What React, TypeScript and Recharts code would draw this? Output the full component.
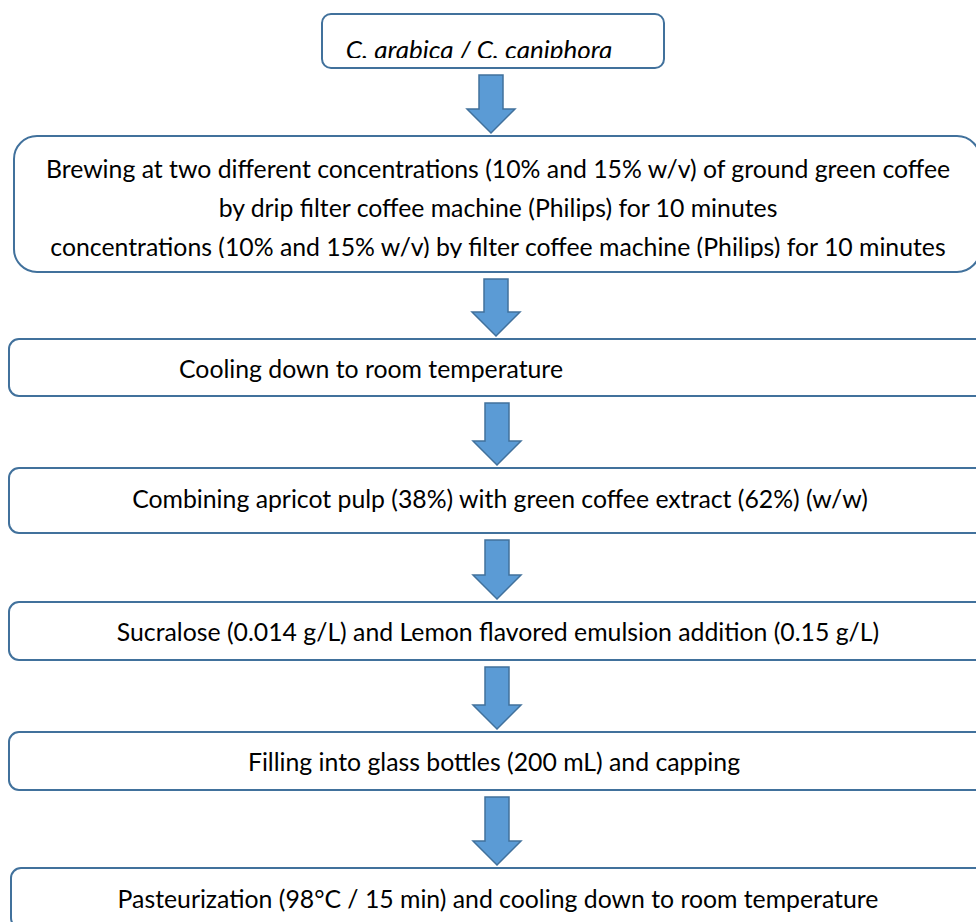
import { Scatter, ScatterChart, XAxis, YAxis } from "recharts"

// ---- content of the flow diagram ----
const sourceSpecies = ["C. arabica / C. caniphora"]

const processSteps: string[][] = [
	[
		"Brewing at two different concentrations (10% and 15% w/v) of ground green coffee",
		"by drip filter coffee machine (Philips) for 10 minutes",
		"concentrations (10% and 15% w/v) by filter coffee machine (Philips) for 10 minutes",
	],
	["Cooling down to room temperature"],
	["Combining apricot pulp (38%) with green coffee extract (62%) (w/w)"],
	["Sucralose (0.014 g/L) and Lemon flavored emulsion addition (0.15 g/L)"],
	["Filling into glass bottles (200 mL) and capping"],
	["Pasteurization (98°C / 15 min) and cooling down to room temperature"],
]

// ---- layout (frame units = px of a 976 x 922 frame) ----
const W = 976
const H = 922
const FIRST_TOP = 14
const BOX_LEFT = [322, 14, 9, 9, 9, 9, 11]
const BOX_RIGHT = [664, 980, 992, 992, 992, 992, 992]
const BOX_H = [54, 136, 57, 65, 58, 58, 60]
const BOX_R = [9, 23, 10, 10, 10, 10, 10]
const GAPS = [68, 67, 72, 69, 72, 78]
const TEXT_CX = [479, 498, 371, 500, 498, 494, 498]
const BASELINE = [45, 42, 39, 40, 39, 39, 40]
const CLIP_INSET = [10, 14, 0, 0, 0, 0, 0]
const FONT_SIZE = [26, 24.8, 24.8, 24.8, 24.8, 24.8, 24.8]
const ARROW_CX = [491, 496, 497, 497, 497, 497]
const LINE_H = 39

const FONT = "Lato, 'Open Sans', sans-serif"
const BORDER = "#41719C"
const ARROW_FILL = "#5B9BD5"

const allRows = [sourceSpecies, ...processSteps]

// box centres on the (hidden) frame axes
const tops: number[] = []
allRows.forEach((_, i) => {
	tops.push(i === 0 ? FIRST_TOP : tops[i - 1] + BOX_H[i - 1] + GAPS[i - 1])
})

const boxData = allRows.map((lines, i) => ({
	x: (BOX_LEFT[i] + BOX_RIGHT[i]) / 2,
	y: tops[i] + BOX_H[i] / 2,
	lines,
	idx: i,
}))

const arrowData = GAPS.map((_, i) => {
	const from = tops[i] + BOX_H[i] + 7
	const to = tops[i + 1] - 3
	return { x: ARROW_CX[i], y: (from + to) / 2, len: to - from }
})

const wrapStyle = { position: "absolute" as const, left: 0, top: 0, width: W, height: H, background: "#fff" }
const chartMargin = { top: 0, right: 0, bottom: 0, left: 0 }

function StepBox(props: any) {
	const { cx, cy, payload } = props
	const i = payload.idx
	const w = BOX_RIGHT[i] - BOX_LEFT[i]
	const h = BOX_H[i]
	const x0 = cx - w / 2
	const y0 = cy - h / 2
	const clipId = `step-clip-${i}`
	return (
		<g>
			<defs>
				<clipPath id={clipId}>
					<rect x={x0} y={y0} width={w} height={h - CLIP_INSET[i]} />
				</clipPath>
			</defs>
			<rect x={x0} y={y0} width={w} height={h} rx={BOX_R[i]} ry={BOX_R[i]} fill="#fff" stroke={BORDER} strokeWidth={2} />
			<g clipPath={`url(#${clipId})`}>
				{payload.lines.map((t: string, k: number) => (
					<text
						key={k}
						x={TEXT_CX[i]}
						y={y0 + BASELINE[i] + k * LINE_H}
						textAnchor="middle"
						fontFamily={FONT}
						fontSize={FONT_SIZE[i]}
						fontStyle={i === 0 ? "italic" : "normal"}
						fill="#000"
					>
						{t}
					</text>
				))}
			</g>
		</g>
	)
}

function DownArrow(props: any) {
	const { cx, cy, payload } = props
	const top = cy - payload.len / 2
	const tip = cy + payload.len / 2
	const shaft = 12
	const head = 24
	const headH = 24
	const d = [
		`M${cx - shaft},${top}`,
		`L${cx + shaft},${top}`,
		`L${cx + shaft},${tip - headH}`,
		`L${cx + head},${tip - headH}`,
		`L${cx},${tip}`,
		`L${cx - head},${tip - headH}`,
		`L${cx - shaft},${tip - headH}`,
		"Z",
	].join(" ")
	return <path d={d} fill={ARROW_FILL} stroke={BORDER} strokeWidth={1.5} strokeLinejoin="miter" />
}

export default function App() {
	return (
		<div style={wrapStyle}>
			<ScatterChart width={W} height={H} margin={chartMargin}>
				<XAxis type="number" dataKey="x" domain={[0, W]} hide />
				<YAxis type="number" dataKey="y" domain={[0, H]} reversed hide />
				<Scatter data={arrowData} shape={(p: any) => <DownArrow {...p} />} isAnimationActive={false} />
				<Scatter data={boxData} shape={(p: any) => <StepBox {...p} />} isAnimationActive={false} />
			</ScatterChart>
		</div>
	)
}
